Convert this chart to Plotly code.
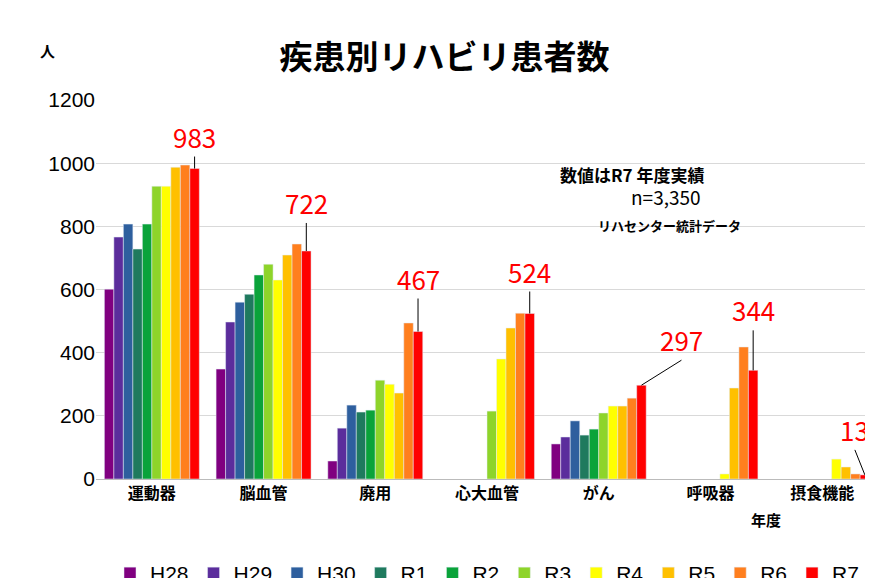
import plotly.graph_objects as go

categories = ["運動器", "脳血管", "廃用", "心大血管", "がん", "呼吸器", "摂食機能"]
years = ["H28", "H29", "H30", "R1", "R2", "R3", "R4", "R5", "R6", "R7"]
values = {
    "H28": [601, 348, 57, None, 111, None, None],
    "H29": [766, 497, 161, None, 133, None, None],
    "H30": [807, 560, 234, None, 184, None, None],
    "R1":  [728, 585, 212, None, 139, None, None],
    "R2":  [807, 646, 218, None, 158, None, None],
    "R3":  [927, 680, 313, 215, 209, None, None],
    "R4":  [927, 630, 300, 380, 231, 16, 63],
    "R5":  [987, 709, 272, 478, 231, 288, 38],
    "R6":  [994, 744, 494, 525, 256, 418, 16],
    "R7":  [983, 722, 467, 524, 297, 344, 13],
}
colors = ["#800080", "#5b2d9c", "#2e5f9e", "#1f7a5e", "#0aa33a", "#8ed42a",
          "#ffff00", "#ffc000", "#ff7f1e", "#ff0000"]
font = "Noto Sans CJK JP"

L, R, T, B = 88, 3, 92, 107
W, H = 873 - L - R, 578 - T - B
def px(x): return (x - L) / W
def py(y): return (578 - B - y) / H

fig = go.Figure()
for y, c in zip(years, colors):
    fig.add_trace(go.Bar(name=y, x=categories, y=values[y], marker_color=c))

bargap = 0.15
off = (1 - bargap) * 0.45
label_shift = [(0, -12), (0, -28), (0, -33), (0, -22), (40, -25), (0, -40), (-10, -25)]
for i, v in enumerate(values["R7"]):
    ax, ay = label_shift[i]
    fig.add_annotation(x=i + off, y=v, text=str(v), showarrow=True, arrowhead=0,
                       arrowwidth=1, arrowcolor="black", ax=ax, ay=ay,
                       font=dict(family=font, size=26, color="red"),
                       yanchor="bottom", standoff=0)

fig.add_annotation(x=px(698), y=py(152), xref="paper", yref="paper", text="<b>数値はR7 年度実績</b>",
                   showarrow=False, font=dict(family=font, size=17, color="black"))
fig.add_annotation(x=px(695), y=py(173), xref="paper", yref="paper", text="n=3,350",
                   showarrow=False, font=dict(family=font, size=19, color="black"))
fig.add_annotation(x=px(735), y=py(206), xref="paper", yref="paper", text="<b>リハセンター統計データ</b>",
                   showarrow=False, font=dict(family=font, size=13, color="black"))
fig.add_annotation(x=px(775), y=py(524), xref="paper", yref="paper", text="<b>年度</b>", showarrow=False,
                   font=dict(family=font, size=15, color="black"))
fig.add_annotation(x=px(30), y=py(30), xref="paper", yref="paper",
                   text="<b>人</b>", showarrow=False, font=dict(family=font, size=15, color="black"))

fig.update_layout(
    width=873, height=578,
    margin=dict(l=L, r=R, t=T, b=B, autoexpand=False),
    paper_bgcolor="white", plot_bgcolor="white",
    barmode="group", bargap=bargap, bargroupgap=0,
    title=dict(text="<b>疾患別リハビリ患者数</b>", x=0.5, xanchor="center", y=0.915, yanchor="middle",
               font=dict(family=font, size=33, color="black")),
    xaxis=dict(tickfont=dict(family=font, size=16, color="black"), showline=True,
               linecolor="#bbbbbb", ticks="", tickprefix="<b>", ticksuffix="</b>"),
    yaxis=dict(range=[0, 1200], dtick=200, tickfont=dict(family="Liberation Sans", size=21, color="black"),
               gridcolor="#d9d9d9", zeroline=False, automargin=False),
    legend=dict(orientation="h", x=0.5, xanchor="center", y=py(545), yanchor="top",
                font=dict(family="Liberation Sans", size=21, color="black"), itemwidth=30,
                tracegroupgap=0),
    showlegend=True,
)
fig.write_html("out.html")
